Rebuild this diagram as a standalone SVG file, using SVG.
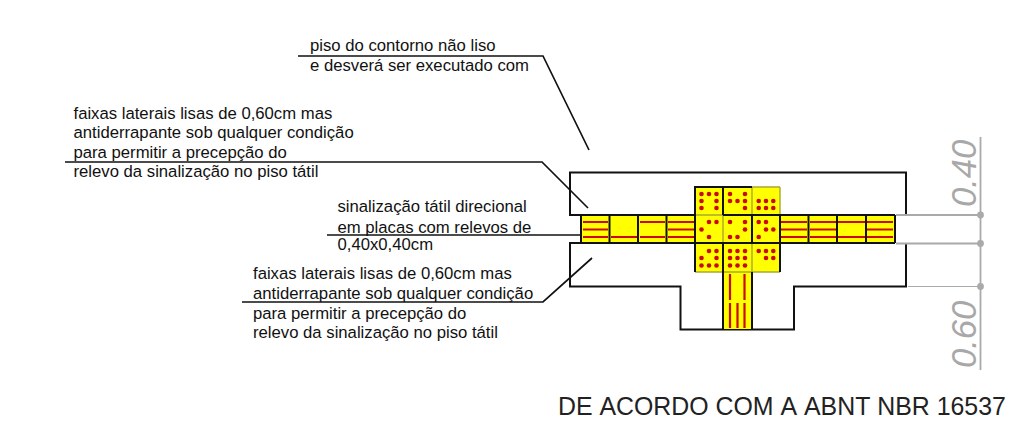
<svg xmlns="http://www.w3.org/2000/svg" width="1016" height="427" viewBox="0 0 1016 427">
<style>
text{font-family:"Liberation Sans",Arial,sans-serif;fill:#111}
.l{font-size:16.700px}
.t{font-size:24.880px;fill:#222;font-kerning:none}
.d{font-size:34.500px;font-style:italic;fill:#a8a8a8}
.k{fill:none;stroke:#111;stroke-width:1.700}
.o{fill:none;stroke:#111;stroke-width:2}
.g{fill:none;stroke:#aaa;stroke-width:1.800}
.h{fill:none;stroke:#aaa;stroke-width:1.200}
.c{fill:#ff0;stroke:none}
.b{fill:none;stroke:#111;stroke-width:2}
.y{fill:none;stroke:#a9a830;stroke-width:1.400}
.r{fill:none;stroke:#c80a0a;stroke-width:2.200}
.p{fill:#c80a0a}
.q{fill:#aaa}
</style>
<rect width="1016" height="427" fill="#fff"/>
<g id="connectors">
<path class="k" d="M298 56H543L589 150"/>
<path class="k" d="M65 162H542L588 208"/>
<path class="k" d="M327 235H581"/>
<path class="k" d="M242 302H543L592 258"/>
</g>
<g id="outline-top"><path class="o" d="M581 215H570V172.500H906V215"/></g>
<g id="outline-bottom"><path class="o" d="M581 243H570V286.500H680.500V329.500H794V286.500H906V243"/></g>
<g id="tactile-strip">
<rect class="c" x="581" y="215" width="314" height="28"/>
<rect class="c" x="695" y="187" width="85" height="85"/>
<rect class="c" x="723" y="272" width="29" height="57"/>
<path class="r" d="M583 222H608M583 229.500H608M583 237H608M611 237H637M640 222H665M640 237H665M668 222H694M668 229.500H694M668 237H694M781 222H807M781 229.500H807M781 237H807M810 222H836M810 229.500H836M810 237H836M838 222H865M838 237H865M867 222H893M867 229.500H893M867 237H893"/>
<path class="r" d="M730 274V300M744.500 274V300M730 303V328M737.500 303V328M744.500 303V328"/>
<path class="y" d="M752 187V215M780 187V215M695 215H723M723 215V243M695 272H780M752 243V272M752 187H780"/>
<path class="b" d="M581 215H695M581 243H695M581 215V243M609.500 215V243M638 215V243M666.500 215V243M780 215H895M780 243H895M808.500 215V243M837 215V243M866 215V243M895 215V243"/>
<path class="b" d="M695 186V272M695 187H752M723 187V215M723 215H780M752 215V243M780 215V272M695 243H780M723 243V272M723 272V329M752 272V329"/>
<g class="p">
<circle cx="701.500" cy="194" r="2.300"/><circle cx="709" cy="194" r="2.300"/><circle cx="716.500" cy="194" r="2.300"/><circle cx="701.500" cy="201" r="2.300"/><circle cx="716.500" cy="201" r="2.300"/><circle cx="701.500" cy="208" r="2.300"/><circle cx="716.500" cy="208" r="2.300"/>
<circle cx="730" cy="194" r="2.300"/><circle cx="745" cy="194" r="2.300"/><circle cx="730" cy="201" r="2.300"/><circle cx="737.500" cy="201" r="2.300"/><circle cx="745" cy="201" r="2.300"/><circle cx="745" cy="208" r="2.300"/>
<circle cx="758.700" cy="201" r="2.300"/><circle cx="766" cy="201" r="2.300"/><circle cx="773.300" cy="201" r="2.300"/><circle cx="758.700" cy="208" r="2.300"/><circle cx="766" cy="208" r="2.300"/><circle cx="773.300" cy="208" r="2.300"/>
<circle cx="709" cy="222" r="2.300"/><circle cx="716.500" cy="222" r="2.300"/><circle cx="701.500" cy="229.500" r="2.300"/><circle cx="709" cy="237" r="2.300"/>
<circle cx="730" cy="222" r="2.300"/><circle cx="745" cy="222" r="2.300"/><circle cx="745" cy="229.500" r="2.300"/><circle cx="730" cy="237" r="2.300"/><circle cx="737.500" cy="237" r="2.300"/>
<circle cx="758.700" cy="222" r="2.300"/><circle cx="766" cy="222" r="2.300"/><circle cx="766" cy="229.500" r="2.300"/><circle cx="773.300" cy="229.500" r="2.300"/><circle cx="758.700" cy="237" r="2.300"/>
<circle cx="709" cy="251" r="2.300"/><circle cx="716.500" cy="251" r="2.300"/><circle cx="701.500" cy="258" r="2.300"/><circle cx="716.500" cy="258" r="2.300"/><circle cx="701.500" cy="265.500" r="2.300"/><circle cx="709" cy="265.500" r="2.300"/><circle cx="716.500" cy="265.500" r="2.300"/>
<circle cx="730" cy="251" r="2.300"/><circle cx="737.500" cy="251" r="2.300"/><circle cx="745" cy="251" r="2.300"/><circle cx="730" cy="258" r="2.300"/><circle cx="737.500" cy="258" r="2.300"/><circle cx="745" cy="258" r="2.300"/><circle cx="730" cy="265.500" r="2.300"/><circle cx="737.500" cy="265.500" r="2.300"/><circle cx="745" cy="265.500" r="2.300"/>
<circle cx="758.700" cy="251" r="2.300"/><circle cx="766" cy="251" r="2.300"/><circle cx="773.300" cy="251" r="2.300"/><circle cx="766" cy="258" r="2.300"/><circle cx="773.300" cy="258" r="2.300"/>
</g>
</g>
<g id="dimensions">
<path class="g" d="M980.500 137V370M896 215H980.500M896 243.500H980.500"/>
<path class="h" d="M908 286.500H980.500"/>
<circle class="q" cx="980.500" cy="215" r="3.400"/><circle class="q" cx="980.500" cy="243.500" r="3.400"/><circle class="q" cx="980.500" cy="286.500" r="3.400"/>
<text class="d" transform="translate(976 207) rotate(-90)">0.40</text>
<text class="d" transform="translate(976 368) rotate(-90)">0.60</text>
</g>
<g id="label-contour">
<text class="l" x="310" y="51">piso do contorno não liso</text>
<text class="l" x="310" y="71">e desverá ser executado com</text>
</g>
<g id="label-upper-bands">
<text class="l" x="73.500" y="118.500">faixas laterais lisas de 0,60cm mas</text>
<text class="l" x="73.500" y="137.500">antiderrapante sob qualquer condição</text>
<text class="l" x="73.500" y="157.500">para permitir a precepção do</text>
<text class="l" x="73.500" y="176.500">relevo da sinalização no piso tátil</text>
</g>
<g id="label-tactile">
<text class="l" x="337.500" y="212">sinalização tátil direcional</text>
<text class="l" x="337.500" y="232.500">em placas com relevos de</text>
<text class="l" x="337.500" y="250">0,40x0,40cm</text>
</g>
<g id="label-lower-bands">
<text class="l" x="253" y="279">faixas laterais lisas de 0,60cm mas</text>
<text class="l" x="253" y="298.500">antiderrapante sob qualquer condição</text>
<text class="l" x="253" y="319">para permitir a precepção do</text>
<text class="l" x="253" y="337.500">relevo da sinalização no piso tátil</text>
</g>
<g id="title"><text class="t" x="558" y="415">DE ACORDO COM A ABNT NBR 16537</text></g>
</svg>
